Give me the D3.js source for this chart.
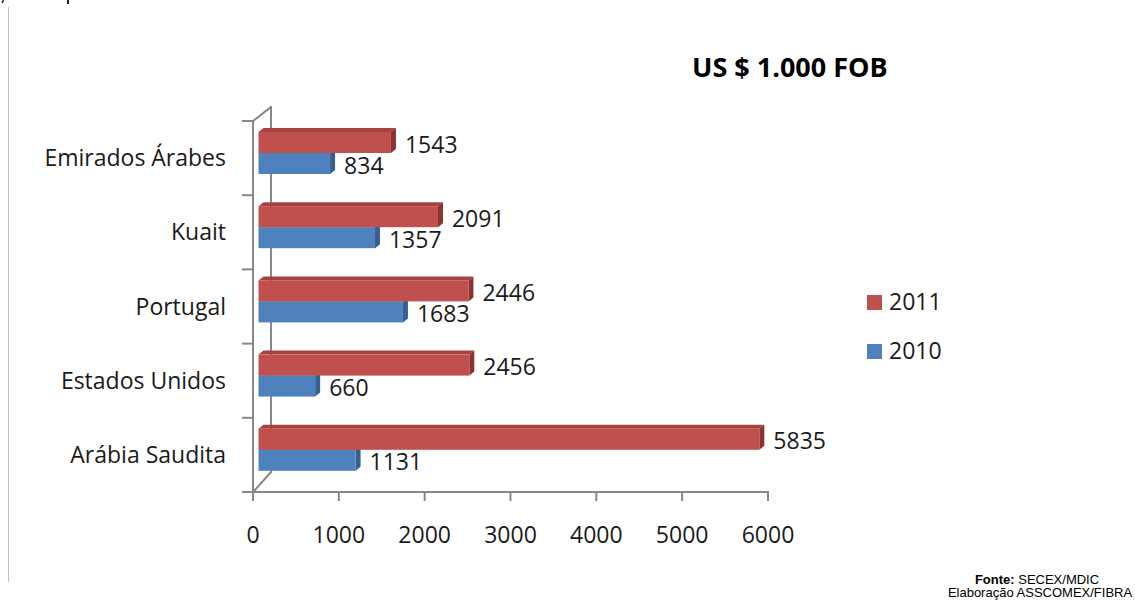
<!DOCTYPE html>
<html>
<head>
<meta charset="utf-8">
<script src="https://cdn.jsdelivr.net/npm/d3@7"></script>
<style>
  body { margin: 0; background: #fff; }
  svg { display: block; }
</style>
</head>
<body>
<svg id="chart" width="1135" height="604"></svg>
<script>
// ---- data ----
const categories = ["Emirados Árabes", "Kuait", "Portugal", "Estados Unidos", "Arábia Saudita"];
const values2011 = [1543, 2091, 2446, 2456, 5835];
const values2010 = [834, 1357, 1683, 660, 1131];
const seriesNames = ["2011", "2010"];
const xTicks = [0, 1000, 2000, 3000, 4000, 5000, 6000];
const titleText = "US $ 1.000 FOB";

// ---- layout ----
const svg = d3.select("#chart");
const font = "'Open Sans', 'DejaVu Sans', sans-serif";
const axisColor = "#888888";
const colors = {
  "2011": { front: "#C0504D", top: "#A7433F", side: "#8A3431" },
  "2010": { front: "#4F81BD", top: "#41699A", side: "#375F8F" }
};

const x = d3.scaleLinear().domain([0, 6000]).range([253, 768]);
const y = d3.scaleBand().domain(categories).range([121, 492]).padding(0);

// depth offsets
const backDx = 18, backDyTop = -14, backDyBot = -20;
const barDx = 5.5;
const depthDx = 5, depthDy = -4;
const barH = 21;
const labelSize = 23;

// left page border line
svg.append("line").attr("x1", 8.5).attr("x2", 8.5).attr("y1", 7).attr("y2", 582)
  .attr("stroke", "#c0c0c0").attr("stroke-width", 1);

// remnants of cropped text above the picture (just marks)
svg.append("path").attr("d", "M3.5,0 L2,3").attr("stroke", "#222").attr("stroke-width", 1.5);
svg.append("rect").attr("x", 67).attr("y", 0).attr("width", 2).attr("height", 4).attr("fill", "#222");

// ---- axis frame (3D walls) ----
const g = svg.append("g");
const y0 = y.range()[0], y1 = y.range()[1];
const x0 = x(0);
const axisLine = (a, b, c, d) => g.append("line").attr("x1", a).attr("y1", b).attr("x2", c).attr("y2", d)
  .attr("stroke", axisColor).attr("stroke-width", 2).attr("stroke-linecap", "square");

axisLine(x0 + backDx, y0 + backDyTop, x0 + backDx, y1 + backDyBot);
axisLine(x0, y0, x0 + backDx, y0 + backDyTop);
axisLine(x0, y1, x0 + backDx, y1 + backDyBot);
axisLine(x0, y0, x0, y1 + 8);
axisLine(x0 - 10, y1, x(6000), y1);
const boundaries = categories.map(c => y(c)).concat([y1]);
boundaries.forEach(b => axisLine(x0 - 10, b, x0, b));
xTicks.forEach(t => axisLine(x(t), y1, x(t), y1 + 8));

// tick labels
svg.append("g").selectAll("text").data(xTicks).join("text")
  .attr("x", d => x(d)).attr("y", 543)
  .attr("text-anchor", "middle")
  .attr("font-family", font).attr("font-size", labelSize).attr("fill", "#1a1a1a")
  .text(d => d);

// category labels
svg.append("g").selectAll("text").data(categories).join("text")
  .attr("x", 226).attr("y", d => y(d) + y.bandwidth() / 2 + 8)
  .attr("text-anchor", "end")
  .attr("font-family", font).attr("font-size", labelSize).attr("fill", "#1a1a1a")
  .text(d => d);

// ---- bars ----
function drawBar(parent, v, top, col) {
  const xa = x(0) + barDx, xb = x(v) + barDx;
  const yt = top, yb = top + barH;
  parent.append("path")
    .attr("d", `M${xa},${yt} L${xa + depthDx},${yt + depthDy} L${xb + depthDx},${yt + depthDy} L${xb},${yt} Z`)
    .attr("fill", col.top);
  parent.append("path")
    .attr("d", `M${xb},${yt} L${xb + depthDx},${yt + depthDy} L${xb + depthDx},${yb + depthDy} L${xb},${yb} Z`)
    .attr("fill", col.side);
  parent.append("rect").attr("x", xa).attr("y", yt).attr("width", xb - xa).attr("height", barH)
    .attr("fill", col.front);
}

const barsG = svg.append("g");
categories.forEach((c, i) => {
  const redTop = y(c) + 11;
  const blueTop = redTop + barH;
  drawBar(barsG, values2010[i], blueTop, colors["2010"]);
  drawBar(barsG, values2011[i], redTop, colors["2011"]);
});

// value labels
const labels = [];
categories.forEach((c, i) => {
  const redTop = y(c) + 11;
  labels.push({ v: values2011[i], yc: redTop + barH / 2 });
  labels.push({ v: values2010[i], yc: redTop + barH + barH / 2 });
});
svg.append("g").selectAll("text").data(labels).join("text")
  .attr("x", d => x(d.v) + barDx + 14)
  .attr("y", d => d.yc + 10)
  .attr("font-family", font).attr("font-size", labelSize).attr("fill", "#1a1a1a")
  .text(d => d.v);

// title
svg.append("text").attr("x", 692).attr("y", 77)
  .attr("font-family", font).attr("font-weight", "bold").attr("font-size", 27).attr("fill", "#000")
  .text(titleText);

// legend
const legendY = [302, 351];
const lg = svg.append("g");
seriesNames.forEach((s, i) => {
  lg.append("rect").attr("x", 867).attr("y", legendY[i] - 7).attr("width", 15).attr("height", 15)
    .attr("fill", colors[s].front);
  lg.append("text").attr("x", 889).attr("y", legendY[i] + 8)
    .attr("font-family", font).attr("font-size", labelSize).attr("fill", "#1a1a1a").text(s);
});

// footer
const foot = svg.append("g").attr("font-family", "'Liberation Sans', Arial, sans-serif").attr("font-size", 13).attr("fill", "#000");
const f1 = foot.append("text").attr("x", 1037).attr("y", 584).attr("text-anchor", "middle");
f1.append("tspan").attr("font-weight", "bold").text("Fonte:");
f1.append("tspan").text(" SECEX/MDIC");
foot.append("text").attr("x", 1040).attr("y", 597).attr("text-anchor", "middle").text("Elaboração ASSCOMEX/FIBRA");
</script>
</body>
</html>
